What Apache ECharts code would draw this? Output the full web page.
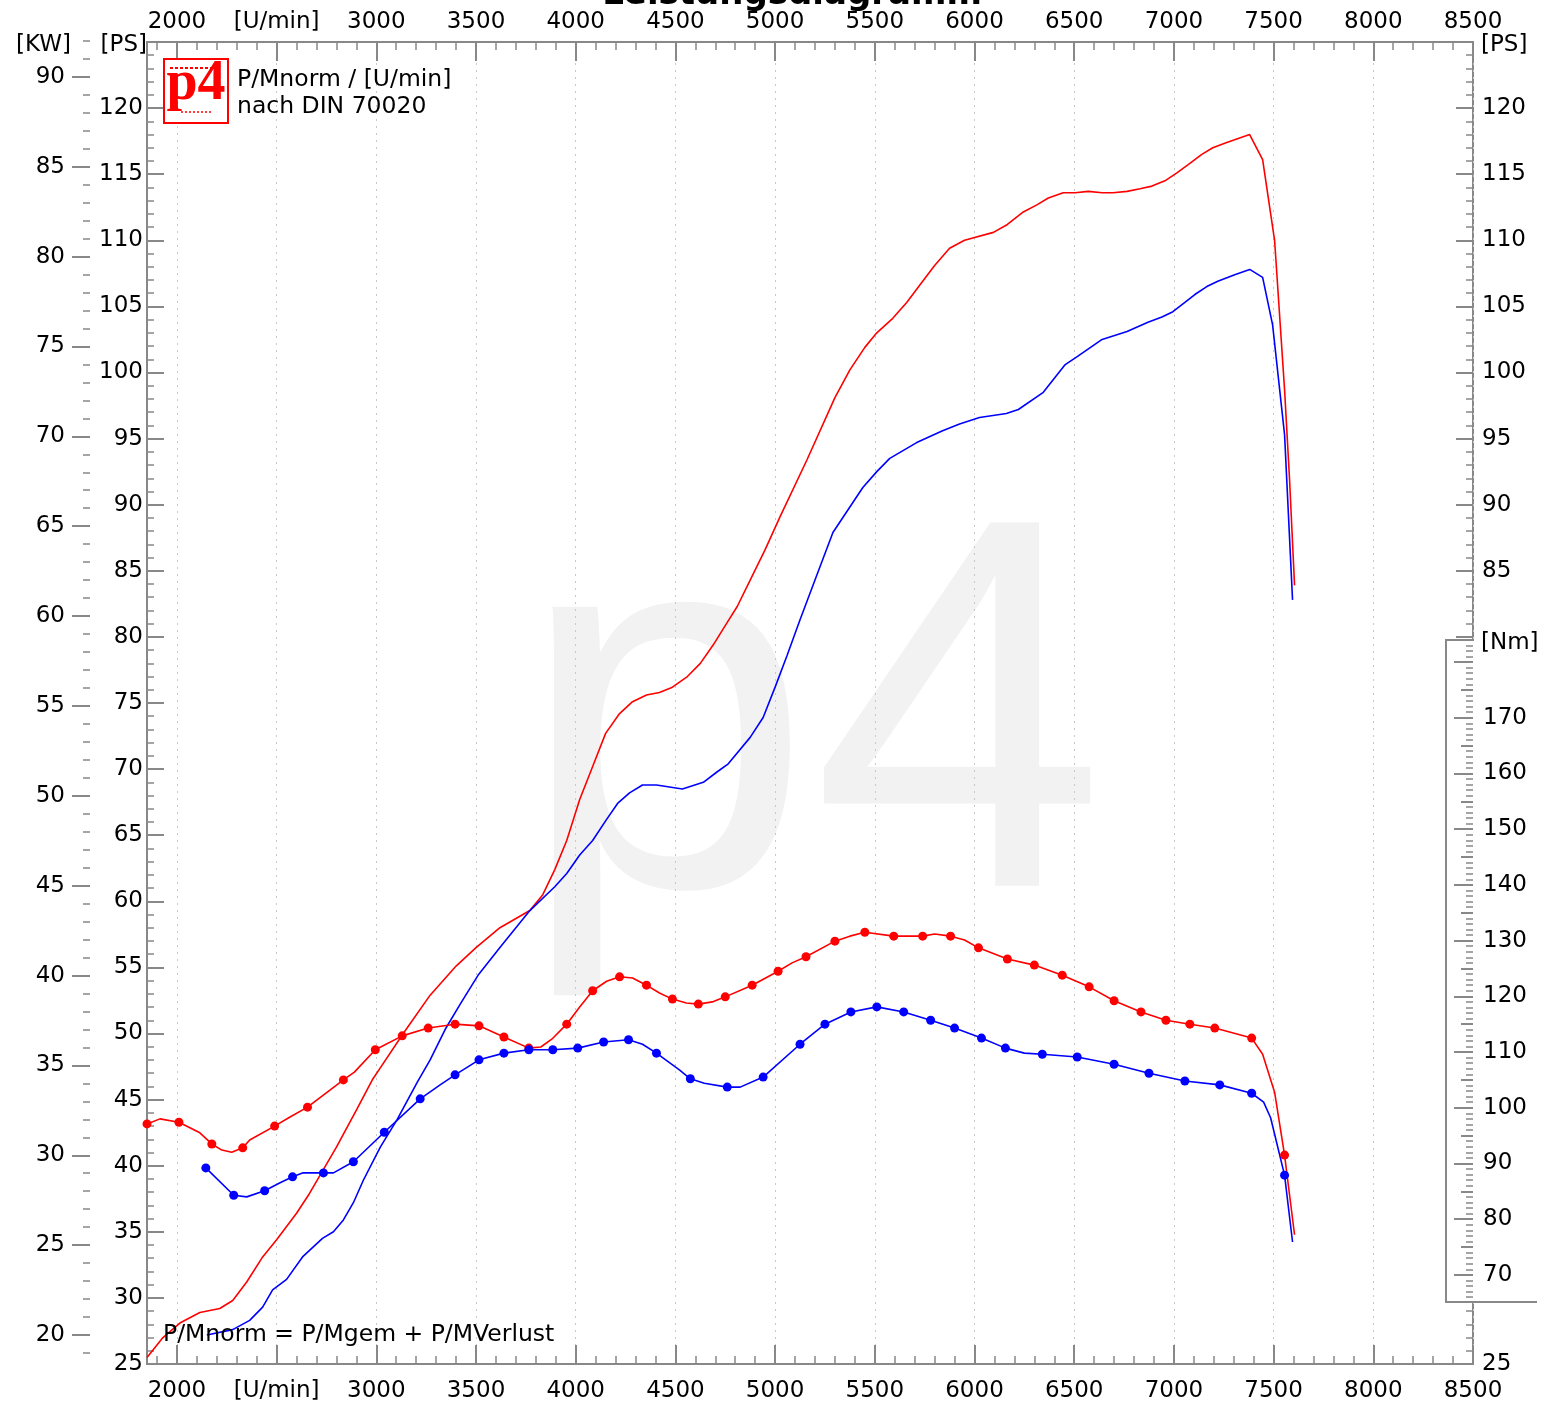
<!DOCTYPE html>
<html>
<head>
<meta charset="utf-8">
<title>Leistungsdiagramm</title>
<script src="https://cdn.jsdelivr.net/npm/echarts@6/dist/echarts.min.js"></script>
<style>
  html, body { margin: 0; padding: 0; background: #fff; }
  #chart { width: 1552px; height: 1409px; }
</style>
</head>
<body>
<div id="chart"></div>
<script>
// Achsenbereiche
const RPM_MIN = 1850, RPM_MAX = 8500;
const PS_MIN = 25, PS_MAX = 125;
const NM_MIN = 54, NM_MAX = 291.3;
const PS_PER_KW = 1.35962;

// Leistung [PS] ueber Drehzahl [U/min]
const powerRed = [
  [1850,25.5],[1930,27.0],[2015,28.1],[2115,28.9],[2215,29.2],[2280,29.8],[2350,31.2],[2430,33.1],
  [2500,34.4],[2600,36.4],[2665,37.9],[2800,41.4],[2900,44.2],[2980,46.5],[3020,47.4],[3135,50.0],
  [3270,52.9],[3400,55.1],[3500,56.5],[3620,58.0],[3770,59.3],[3835,60.5],[3895,62.4],[3955,64.6],
  [4020,67.7],[4085,70.2],[4150,72.7],[4220,74.2],[4285,75.1],[4355,75.6],[4420,75.8],[4485,76.2],
  [4560,77.0],[4625,78.0],[4690,79.4],[4760,81.1],[4810,82.3],[4875,84.3],[4950,86.6],[5025,89.1],
  [5160,93.4],[5300,98.1],[5375,100.2],[5450,101.9],[5510,103.0],[5590,104.1],[5660,105.3],[5725,106.6],
  [5800,108.1],[5875,109.4],[5950,110.0],[6095,110.6],[6165,111.2],[6240,112.1],[6315,112.7],[6370,113.2],
  [6445,113.6],[6505,113.6],[6570,113.7],[6640,113.6],[6695,113.6],[6765,113.7],[6830,113.9],[6890,114.1],
  [6955,114.5],[7015,115.1],[7070,115.7],[7140,116.5],[7195,117.0],[7265,117.4],[7380,118.0],[7445,116.1],
  [7505,110.0],[7555,98.7],[7580,91.9],[7605,83.9]
];
const powerBlue = [
  [2150,27.2],[2280,27.6],[2365,28.3],[2430,29.3],[2480,30.6],[2550,31.4],[2630,33.1],[2730,34.5],
  [2785,35.0],[2835,35.9],[2885,37.2],[2935,38.9],[3020,41.4],[3105,43.5],[3205,46.3],[3270,48.0],
  [3345,50.3],[3420,52.2],[3510,54.4],[3620,56.5],[3770,59.3],[3895,61.1],[3955,62.1],[4020,63.5],
  [4085,64.6],[4155,66.2],[4210,67.4],[4270,68.2],[4335,68.8],[4405,68.8],[4535,68.5],[4640,69.0],
  [4710,69.8],[4765,70.4],[4875,72.4],[4940,73.9],[5000,76.2],[5060,78.6],[5125,81.3],[5200,84.3],
  [5290,87.9],[5440,91.3],[5510,92.5],[5575,93.5],[5710,94.7],[5840,95.6],[5925,96.1],[6025,96.6],
  [6160,96.9],[6220,97.2],[6345,98.5],[6455,100.6],[6515,101.2],[6640,102.5],[6765,103.1],[6870,103.8],
  [6940,104.2],[6995,104.6],[7055,105.3],[7105,105.9],[7165,106.5],[7220,106.9],[7305,107.4],[7380,107.8],
  [7445,107.2],[7495,103.6],[7555,95.3],[7595,82.8]
];

// Drehmoment [Nm]: [U/min, Nm, Messpunkt 1/0]
const torqueRed = [
  [1850,97.1,1],[1915,98.0,0],[2010,97.4,1],[2115,95.5,0],[2175,93.5,1],[2225,92.4,0],[2275,92.0,0],
  [2330,92.8,1],[2365,94.2,0],[2490,96.7,1],[2565,98.3,0],[2655,100.1,1],[2835,105.0,1],[2890,106.4,0],
  [2995,110.4,1],[3130,112.9,1],[3260,114.3,1],[3395,115.0,1],[3515,114.7,1],[3640,112.7,1],[3765,110.7,1],
  [3825,110.9,0],[3880,112.3,0],[3955,115.0,1],[4020,118.1,0],[4085,121.0,1],[4155,122.7,0],[4220,123.5,1],
  [4285,123.3,0],[4355,122.0,1],[4420,120.6,0],[4485,119.5,1],[4555,118.8,0],[4615,118.6,1],[4685,119.0,0],
  [4750,119.9,1],[4885,122.0,1],[5015,124.5,1],[5085,126.0,0],[5155,127.1,1],[5300,129.9,1],[5375,130.8,0],
  [5450,131.5,1],[5595,130.8,1],[5740,130.8,1],[5800,131.2,0],[5880,130.8,1],[5950,130.1,0],[6020,128.7,1],
  [6165,126.7,1],[6300,125.6,1],[6440,123.8,1],[6575,121.7,1],[6700,119.2,1],[6835,117.2,1],[6960,115.7,1],
  [7080,115.0,1],[7205,114.3,1],[7390,112.5,1],[7445,109.6,0],[7505,102.8,0],[7555,91.5,1],[7605,77.2,0]
];
const torqueBlue = [
  [2145,89.2,1],[2285,84.3,1],[2350,84.0,0],[2440,85.1,1],[2515,86.5,0],[2580,87.6,1],[2630,88.3,0],
  [2735,88.3,1],[2785,88.3,0],[2885,90.3,1],[3040,95.6,1],[3220,101.6,1],[3320,104.1,0],[3395,105.9,1],
  [3515,108.6,1],[3640,109.8,1],[3765,110.4,1],[3885,110.4,1],[4010,110.7,1],[4140,111.8,1],[4265,112.2,1],
  [4335,111.4,0],[4405,109.8,1],[4520,106.8,0],[4575,105.2,1],[4645,104.4,0],[4760,103.7,1],[4825,103.7,0],
  [4940,105.5,1],[5125,111.4,1],[5250,115.0,1],[5380,117.2,1],[5510,118.1,1],[5645,117.2,1],[5780,115.7,1],
  [5900,114.3,1],[6035,112.5,1],[6155,110.7,1],[6250,109.8,0],[6340,109.6,1],[6515,109.1,1],[6700,107.8,1],
  [6875,106.2,1],[7055,104.8,1],[7230,104.1,1],[7390,102.6,1],[7450,101.0,0],[7485,98.2,0],[7555,87.9,1],
  [7595,75.9,0]
];

// Plotbereich in Pixeln
const G = { left: 147, top: 42, width: 1326, height: 1322 };
const rpmX = v => G.left + (v - RPM_MIN) / (RPM_MAX - RPM_MIN) * G.width;
const psY = v => G.top + (PS_MAX - v) / (PS_MAX - PS_MIN) * G.height;
const kwY = v => psY(v * PS_PER_KW);
const nmY = v => G.top + (NM_MAX - v) / (NM_MAX - NM_MIN) * G.height;

const GRAY = '#888';
const FONT = 'DejaVu Sans';
const labelStyle = { fontFamily: FONT, fontSize: 23, color: '#000' };

function xGridFor(from) {
  return { left: rpmX(from), top: G.top, width: rpmX(RPM_MAX) - rpmX(from), height: G.height, outerBoundsMode: 'none' };
}
function yGrid(left, top, bottom) {
  return { left: left, top: top, width: 10, height: bottom - top, outerBoundsMode: 'none' };
}

const grids = [
  Object.assign({ show: true, borderColor: GRAY, borderWidth: 2, outerBoundsMode: 'none' }, G), // 0 Leistung
  Object.assign({ outerBoundsMode: 'none' }, G),                                                // 1 Drehmoment
  xGridFor(1900),                                                                               // 2 x Feinteilung
  xGridFor(2000),                                                                               // 3 x Hauptteilung
  yGrid(90, kwY(92), kwY(19)),                                                                  // 4 kW fein
  yGrid(90, kwY(90), kwY(20)),                                                                  // 5 kW grob
  yGrid(1463, nmY(183), nmY(66)),                                                               // 6 Nm fein
  yGrid(1463, nmY(180), nmY(70)),                                                               // 7 Nm 5er
  yGrid(1463, nmY(180), nmY(70))                                                                // 8 Nm 10er
];

const hiddenX = gi => ({ type: 'value', gridIndex: gi, min: 1, max: 2, show: false });
const hiddenY = gi => ({ type: 'value', gridIndex: gi, min: 1, max: 2, show: false });

function minorX(pos) {
  return {
    type: 'value', gridIndex: 2, position: pos, min: 1900, max: 8500, interval: 100,
    axisLine: { show: false, onZero: false },
    axisTick: { show: true, inside: true, length: 8, lineStyle: { color: GRAY, width: 1.5 } },
    axisLabel: { show: false }, splitLine: { show: false }
  };
}
function majorX(pos, withGrid) {
  return {
    type: 'value', gridIndex: 3, position: pos, min: 2000, max: 8500, interval: 500,
    axisLine: { show: false, onZero: false },
    axisTick: { show: true, inside: true, length: 19, lineStyle: { color: GRAY, width: 2 } },
    axisLabel: Object.assign({
      margin: pos === 'bottom' ? 16 : 8, showMinLabel: true, showMaxLabel: true,
      formatter: v => (v === 2500 ? '[U/min]' : String(v))
    }, labelStyle),
    splitLine: { show: withGrid, lineStyle: { color: '#c8c8c8', width: 1, type: [2, 5] } },
    z: 1
  };
}
function psAxis(pos, fmt, margin) {
  return {
    type: 'value', gridIndex: 0, position: pos, min: PS_MIN, max: PS_MAX, interval: 5,
    axisLine: { show: false, onZero: false },
    axisTick: { show: true, inside: true, length: 17, lineStyle: { color: GRAY, width: 2 } },
    minorTick: { show: true, splitNumber: 5, length: 7, lineStyle: { color: GRAY, width: 1.5 } },
    axisLabel: Object.assign({ margin: margin, showMinLabel: true, showMaxLabel: true, formatter: fmt }, labelStyle),
    splitLine: { show: false }
  };
}
function scaleAxis(gi, pos, min, max, interval, len, labels, fmt) {
  return {
    type: 'value', gridIndex: gi, position: pos, min: min, max: max, interval: interval,
    axisLine: { show: false, onZero: false },
    axisTick: { show: true, inside: pos === 'right', length: len, lineStyle: { color: GRAY, width: len > 10 ? 2 : 1.5 } },
    axisLabel: Object.assign({
      show: labels, margin: pos === 'right' ? 10 : 25, showMinLabel: true, showMaxLabel: true,
      formatter: fmt || (v => String(v))
    }, labelStyle),
    splitLine: { show: false },
    z: 5
  };
}

const xAxes = [
  { type: 'value', gridIndex: 0, min: RPM_MIN, max: RPM_MAX, show: false },
  { type: 'value', gridIndex: 1, min: RPM_MIN, max: RPM_MAX, show: false },
  minorX('bottom'), minorX('top'),
  majorX('bottom', true), majorX('top', false),
  hiddenX(4), hiddenX(5), hiddenX(6), hiddenX(7), hiddenX(8)
];
const yAxes = [
  psAxis('left', v => (v === 125 ? '' : String(v)), 4),
  psAxis('right', v => ((v >= 85 && v <= 120) || v === 25 ? String(v) : ''), 9),
  { type: 'value', gridIndex: 1, min: NM_MIN, max: NM_MAX, show: false },
  hiddenY(2), hiddenY(3),
  scaleAxis(4, 'left', 19, 92, 1, 7, false),
  scaleAxis(5, 'left', 20, 90, 5, 18, true),
  scaleAxis(6, 'right', 66, 183, 1, 7, false),
  scaleAxis(7, 'right', 70, 180, 5, 12, false),
  scaleAxis(8, 'right', 70, 180, 10, 19, true, v => (v === 180 ? '' : String(v)))
];

function powerSeries(data, color) {
  return {
    type: 'line', xAxisIndex: 0, yAxisIndex: 0, data: data, showSymbol: false,
    lineStyle: { color: color, width: 1.6 }, itemStyle: { color: color }, z: 3
  };
}
function torqueSeries(data, color) {
  return {
    type: 'line', xAxisIndex: 1, yAxisIndex: 2, symbolSize: 9,
    data: data.map(p => ({ value: [p[0], p[1]], symbol: p[2] ? 'circle' : 'none' })),
    lineStyle: { color: color, width: 1.6 }, itemStyle: { color: color }, z: 3
  };
}

function txt(text, x, y, size, align, extra) {
  return Object.assign({
    type: 'text', x: x, y: y, silent: true,
    style: { text: text, font: size + 'px "' + FONT + '"', fill: '#000', align: align, verticalAlign: 'middle' }
  }, extra || {});
}

const graphics = [
  // Wasserzeichen
  { type: 'text', x: 812, y: 923 - 0.3465 * 528, z: 0, silent: true,
    style: { text: 'p4', font: '528px "Liberation Sans"', fill: '#f2f2f2', align: 'center', verticalAlign: 'middle' } },
  // Titel (oben angeschnitten)
  { type: 'text', x: 792, y: 7 - 0.346 * 34, z: 10, silent: true,
    style: { text: 'Leistungsdiagramm', font: 'bold 34px "' + FONT + '"', fill: '#000', align: 'center', verticalAlign: 'middle' } },
  // Logo
  { type: 'rect', z: 10, shape: { x: 164, y: 59, width: 64, height: 64 },
    style: { fill: '#fff', stroke: '#ff0000', lineWidth: 2 } },
  { type: 'line', z: 11, shape: { x1: 170, y1: 68, x2: 212, y2: 68 },
    style: { stroke: '#ff0000', lineWidth: 2, lineDash: [3, 2] } },
  { type: 'line', z: 11, shape: { x1: 181, y1: 112, x2: 213, y2: 112 },
    style: { stroke: '#ff0000', lineWidth: 1.5, lineDash: [2, 2] } },
  { type: 'text', x: 196, y: 104 - 0.34 * 56, z: 11, silent: true,
    style: { text: 'p4', font: 'bold 56px "Liberation Serif"', fill: '#ff0000', align: 'center', verticalAlign: 'middle' } },
  txt('P/Mnorm / [U/min]', 237, 80, 23.5, 'left', { z: 10 }),
  txt('nach DIN 70020', 237, 107, 23.5, 'left', { z: 10 }),
  txt('P/Mnorm = P/Mgem + P/MVerlust', 163, 1335, 23.5, 'left', { z: 10 }),
  // Einheiten
  txt('[KW]', 71, 45, 23, 'right'),
  txt('[PS]', 147, 45, 23, 'right'),
  txt('[PS]', 1481, 45, 23, 'left'),
  txt('[Nm]', 1481, 643, 23, 'left'),
  // Nm-Skala Kasten
  { type: 'rect', z: 3, silent: true, shape: { x: 1447, y: 641, width: 29, height: 660 }, style: { fill: '#fff' } },
  { type: 'polyline', z: 6, silent: true,
    shape: { points: [[1537, 1302], [1446, 1302], [1446, 640], [1472, 640]] },
    style: { stroke: GRAY, lineWidth: 2, fill: null } }
];

const chart = echarts.init(document.getElementById('chart'));
chart.setOption({
  animation: false,
  backgroundColor: '#fff',
  grid: grids,
  xAxis: xAxes,
  yAxis: yAxes,
  graphic: graphics,
  series: [
    powerSeries(powerRed, '#ff0000'),
    powerSeries(powerBlue, '#0000ff'),
    torqueSeries(torqueRed, '#ff0000'),
    torqueSeries(torqueBlue, '#0000ff')
  ]
});
</script>
</body>
</html>
